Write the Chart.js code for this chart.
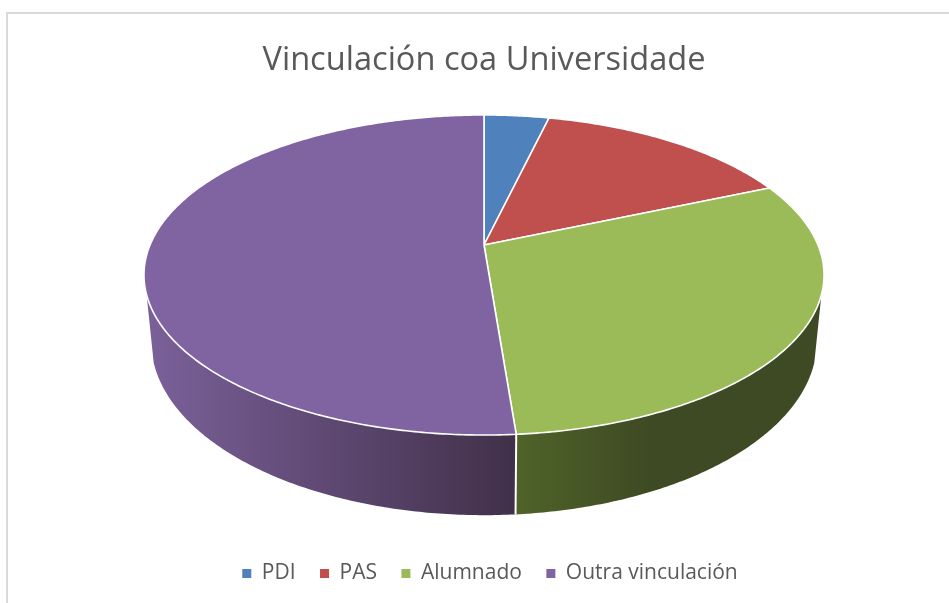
<!DOCTYPE html>
<html lang="gl">
<head>
<meta charset="utf-8">
<title>Vinculación coa Universidade</title>
<script src="https://cdn.jsdelivr.net/npm/chart.js@4"></script>
<style>
  html, body { margin: 0; padding: 0; background: #fff; overflow: hidden; }
  #frame { position: absolute; left: 6px; top: 12px; width: 943px; height: 591px; box-sizing: border-box;
    border-top: 2px solid #d9d9d9; border-left: 2px solid #d9d9d9; }
  #wrap { position: absolute; left: 0; top: 0; width: 949px; height: 603px; }
</style>
</head>
<body>
<div id="frame"></div>
<div id="wrap"><canvas id="pie" width="949" height="603"></canvas></div>
<script>
  const categories = ['PDI', 'PAS', 'Alumnado', 'Outra vinculación'];
  const shares = [3.7, 14.8, 30.25, 51.25];
  const topColors = ['#4f81bd', '#c0504d', '#9bbb59', '#8064a2'];
  const wallColors = [
    ['#2f4d71', '#2f4d71'],
    ['#733030', '#733030'],
    ['#4f6329', '#3e4a23'],
    ['#7a6099', '#413049']
  ];

  // Camera for the tilted disc: lid and base share the same foreshortening
  const tilt = 0.1875;
  const lid = { x: 484, y: 245, a: 334, b: 154.4 };
  const base = { x: 484, y: 308.4, a: 327, b: 168 };
  // the wall is only visible between these two rim angles
  const wallFrom = 0.31;
  const wallTo = Math.PI - 0.31;

  function project(disc, angle) {
    var u = Math.cos(angle);
    var v = Math.sin(angle);
    var w = 1 - tilt * v;
    return { x: disc.x + disc.a * u / w, y: disc.y + disc.b * v / w };
  }

  function rimPoints(disc, start, end) {
    var pts = [];
    var n = Math.max(2, Math.ceil((end - start) / 0.01));
    for (var i = 0; i <= n; i++) pts.push(project(disc, start + (end - start) * i / n));
    return pts;
  }

  function drawWall(ctx, arc, colors) {
    var start = Math.max(arc.startAngle, wallFrom);
    var end = Math.min(arc.endAngle, wallTo);
    if (end <= start) return;
    var grad;
    if (arc.endAngle - arc.startAngle > 2.5) {
      grad = ctx.createLinearGradient(150, 0, 516, 0);
    } else {
      grad = ctx.createLinearGradient(516, 0, 650, 0);
    }
    grad.addColorStop(0, colors[0]);
    grad.addColorStop(1, colors[1]);
    var upper = rimPoints(lid, start, end);
    var lower = rimPoints(base, start, end).reverse();
    ctx.beginPath();
    upper.concat(lower).forEach(function (p, i) {
      if (i === 0) ctx.moveTo(p.x, p.y);
      else ctx.lineTo(p.x, p.y);
    });
    ctx.closePath();
    ctx.fillStyle = grad;
    ctx.fill();
  }

  const tiltedPie = {
    id: 'tiltedPie',
    afterLayout: function (chart) {
      // legend sits a little right of the title in the original
      chart.legend.left += 6;
      chart.legend.right += 6;
    },
    beforeDatasetsDraw: function (chart) {
      var ctx = chart.ctx;
      var arcs = chart.getDatasetMeta(0).data;
      ctx.save();
      arcs.forEach(function (arc, i) { drawWall(ctx, arc, wallColors[i]); });

      // white seam down the front where two walls meet
      var seamTop = project(lid, arcs[2].endAngle);
      var seamBottom = project(base, arcs[2].endAngle);
      ctx.strokeStyle = '#fff';
      ctx.lineWidth = 2;
      ctx.beginPath();
      ctx.moveTo(seamTop.x, seamTop.y);
      ctx.lineTo(seamBottom.x, seamBottom.y);
      ctx.stroke();

      arcs.forEach(function (arc, i) {
        var pts = rimPoints(lid, arc.startAngle, arc.endAngle);
        ctx.beginPath();
        ctx.moveTo(lid.x, lid.y);
        pts.forEach(function (p) { ctx.lineTo(p.x, p.y); });
        ctx.closePath();
        ctx.fillStyle = topColors[i];
        ctx.fill();
        ctx.strokeStyle = '#fff';
        ctx.lineWidth = 1.6;
        ctx.lineJoin = 'round';
        ctx.stroke();
      });
      ctx.restore();
      return false;
    }
  };

  new Chart(document.getElementById('pie'), {
    type: 'pie',
    data: {
      labels: categories,
      datasets: [{ data: shares, backgroundColor: topColors, borderWidth: 0 }]
    },
    plugins: [tiltedPie],
    options: {
      responsive: false,
      animation: false,
      layout: { padding: { left: 19, bottom: 9 } },
      plugins: {
        tooltip: { enabled: false },
        title: {
          display: true,
          text: 'Vinculación coa Universidade',
          color: '#595959',
          font: { family: '"Open Sans"', size: 32.6, weight: 'normal' },
          padding: { top: 41, bottom: 10 }
        },
        legend: {
          position: 'bottom',
          labels: {
            color: '#595959',
            font: { family: '"Open Sans"', size: 21 },
            usePointStyle: true,
            pointStyle: 'rect',
            boxWidth: 9,
            boxHeight: 9,
            padding: 24.5
          }
        }
      }
    }
  });
</script>
</body>
</html>
